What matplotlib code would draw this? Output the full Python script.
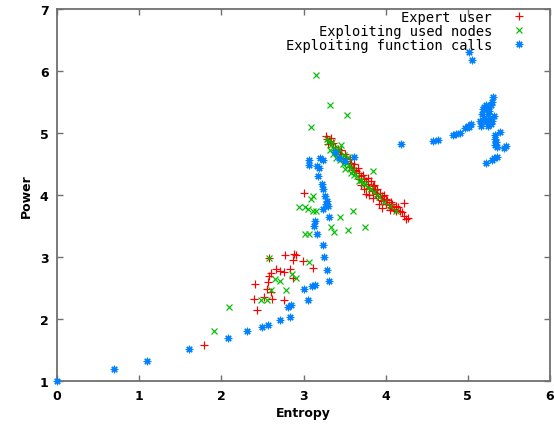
import matplotlib
matplotlib.use("Agg")
import matplotlib.pyplot as plt

# ---- data ----
expert_x = [1.79, 2.44, 2.40, 2.52, 2.62, 2.76, 2.56, 2.61, 2.41, 2.57, 2.58, 2.61, 2.67, 2.71,
            2.76, 2.83, 2.87, 2.58, 2.77, 2.91, 2.87, 2.99, 3.12, 2.89, 3.00,
            3.27, 3.29, 3.32, 3.30, 3.36, 3.38, 3.42, 3.46, 3.44, 3.50, 3.52, 3.56, 3.58, 3.62,
            3.60, 3.66, 3.64, 3.68, 3.70, 3.72, 3.74, 3.70, 3.76, 3.78, 3.79, 3.80, 3.82, 3.84,
            3.86, 3.80, 3.83, 3.87, 3.88, 3.90, 3.91, 3.93, 3.94, 3.96, 3.97, 3.98, 4.00, 4.01,
            4.02, 4.04, 4.06, 4.07, 4.08, 4.10, 4.12, 4.13, 4.15, 4.17, 4.20, 4.22, 4.25, 3.85,
            3.76, 3.92, 4.05, 3.74, 3.55, 3.48, 3.40, 3.34, 3.62, 3.68, 3.96, 4.22, 4.12, 4.27]
expert_y = [1.58, 2.15, 2.33, 2.36, 2.33, 2.31, 2.49, 2.44, 2.57, 2.60, 2.70, 2.74, 2.81, 2.78,
            2.76, 2.81, 2.66, 2.98, 3.04, 3.04, 2.95, 2.93, 2.82, 3.05, 4.04,
            4.95, 4.90, 4.87, 4.82, 4.84, 4.78, 4.75, 4.72, 4.66, 4.66, 4.60, 4.58, 4.52, 4.50,
            4.44, 4.44, 4.38, 4.36, 4.30, 4.33, 4.26, 4.16, 4.22, 4.28, 4.18, 4.12, 4.22, 4.14,
            4.16, 4.00, 4.06, 4.08, 4.02, 4.10, 3.98, 4.04, 3.92, 3.98, 3.90, 4.00, 3.94, 3.86,
            3.92, 3.84, 3.88, 3.80, 3.85, 3.78, 3.82, 3.76, 3.80, 3.74, 3.72, 3.66, 3.62, 3.95,
            4.02, 3.86, 3.76, 4.10, 4.45, 4.58, 4.70, 4.92, 4.40, 4.26, 3.79, 3.87, 3.74, 3.63]

nodes_x = [1.91, 2.09, 2.58, 3.07, 2.65, 2.71, 2.86, 2.91, 2.79, 2.60, 2.48, 2.56,
           3.12, 3.09, 2.95, 3.02, 3.06, 3.12, 3.15, 3.60, 3.44, 3.02, 3.07, 3.33, 3.37,
           3.54, 3.75, 3.15, 3.32, 3.53, 3.09, 3.84,
           3.28, 3.30, 3.33, 3.35, 3.37, 3.39, 3.41, 3.43, 3.45, 3.47, 3.49, 3.51, 3.53,
           3.40, 3.44, 3.48, 3.55, 3.57, 3.60, 3.50, 3.58, 3.62, 3.65, 3.68, 3.70, 3.72,
           3.75, 3.78, 3.82, 3.86, 3.92, 3.98, 4.05, 4.12, 3.36, 3.32, 3.46, 3.54, 3.90]
nodes_y = [1.80, 2.20, 2.98, 2.92, 2.65, 2.62, 2.73, 2.66, 2.47, 2.47, 2.30, 2.31,
           3.98, 3.93, 3.80, 3.80, 3.77, 3.74, 3.75, 3.75, 3.64, 3.37, 3.37, 3.48, 3.40,
           3.44, 3.48, 5.93, 5.45, 5.29, 5.09, 4.39,
           4.90, 4.85, 4.80, 4.86, 4.76, 4.72, 4.68, 4.74, 4.63, 4.60, 4.65, 4.55, 4.52,
           4.60, 4.56, 4.50, 4.48, 4.44, 4.40, 4.42, 4.35, 4.32, 4.30, 4.22, 4.25, 4.20,
           4.18, 4.12, 4.10, 4.05, 3.96, 3.88, 3.82, 3.74, 4.66, 4.72, 4.80, 4.62, 4.00]

calls_x = [0.00, 0.69, 1.09, 1.61, 2.08, 2.31, 2.49, 2.57, 2.71, 2.84, 2.81, 2.85,
           3.01, 3.06, 3.10, 3.14, 3.31, 3.28, 3.25, 3.24, 3.17, 3.13, 3.14, 3.31, 3.24,
           3.27, 3.30, 3.29, 3.26, 3.24, 3.22, 3.18, 3.17, 3.19, 3.24, 3.20, 3.07, 3.07,
           3.43, 3.62, 3.38, 3.50, 4.19, 4.57, 4.64, 4.82, 4.86, 4.90, 4.97, 5.00, 5.04,
           5.02, 5.15, 5.17, 5.18, 5.20, 5.22, 5.24, 5.25, 5.27, 5.28, 5.20, 5.22, 5.26,
           5.28, 5.30, 5.31, 5.16, 5.30, 5.24, 5.32, 5.39, 5.33, 5.33, 5.34, 5.33, 5.35,
           5.44, 5.46, 5.36, 5.32, 5.30, 5.22, 5.02, 5.05]
calls_y = [1.00, 1.20, 1.33, 1.51, 1.70, 1.80, 1.87, 1.91, 1.98, 2.04, 2.20, 2.23,
           2.49, 2.31, 2.54, 2.55, 2.62, 2.79, 3.00, 3.19, 3.37, 3.50, 3.58, 3.64, 3.78,
           3.86, 3.82, 3.90, 3.98, 4.09, 4.17, 4.30, 4.47, 4.44, 4.57, 4.60, 4.49, 4.57,
           4.60, 4.62, 4.70, 4.55, 4.82, 4.87, 4.88, 4.97, 4.99, 5.00, 5.08, 5.12, 5.15,
           5.10, 5.20, 5.30, 5.38, 5.42, 5.45, 5.40, 5.30, 5.22, 5.15, 5.25, 5.18, 5.36,
           5.45, 5.50, 5.58, 5.12, 5.20, 5.12, 5.28, 5.02, 4.97, 4.90, 4.85, 4.80, 4.78,
           4.76, 4.79, 4.62, 4.59, 4.56, 4.52, 6.30, 6.18]

labels = ["Expert user", "Exploiting used nodes", "Exploiting function calls"]
x_ticks = [0, 1, 2, 3, 4, 5, 6]
y_ticks = [1, 2, 3, 4, 5, 6, 7]

# ---- figure ----
fig = plt.figure(figsize=(5.54, 4.27), dpi=100)
ax = fig.add_axes([57/554, 1 - 382/427, (550 - 57)/554, (382 - 10)/427])

ax.plot(expert_x, expert_y, linestyle="none", marker="+", color="#ff0000",
        markersize=5.2, markeredgewidth=0.85, label=labels[0], clip_on=False)
ax.plot(nodes_x, nodes_y, linestyle="none", marker="x", color="#00c000",
        markersize=4.4, markeredgewidth=0.85, label=labels[1], clip_on=False)
ax.plot(calls_x, calls_y, linestyle="none", marker=(8, 2, 0), color="#0080ff",
        markersize=5.4, markeredgewidth=0.85, label=labels[2], clip_on=False)

ax.set_xlim(0, 6)
ax.set_ylim(1, 7)
ax.set_xticks(x_ticks)
ax.set_yticks(y_ticks)
ax.tick_params(direction="in", length=4, width=1, color="#707070",
               top=True, right=True, labelsize=9, pad=6)
for lab in ax.get_xticklabels() + ax.get_yticklabels():
    lab.set_fontweight("bold")
for sp in ax.spines.values():
    sp.set_color("#707070")
    sp.set_linewidth(1.3)
    sp.set_zorder(1)

ax.set_xlabel("Entropy", fontsize=9, fontweight="bold", labelpad=3)
ax.set_ylabel("Power", fontsize=9, fontweight="bold", labelpad=5)

leg = ax.legend(loc="upper right", markerfirst=False, frameon=False,
                prop={"family": "DejaVu Sans Mono", "size": 9.9},
                handlelength=1.2, handletextpad=1.4, labelspacing=0.0,
                borderaxespad=0.0, bbox_to_anchor=(0.966, 1.012))

fig.savefig("out.png", dpi=100)
